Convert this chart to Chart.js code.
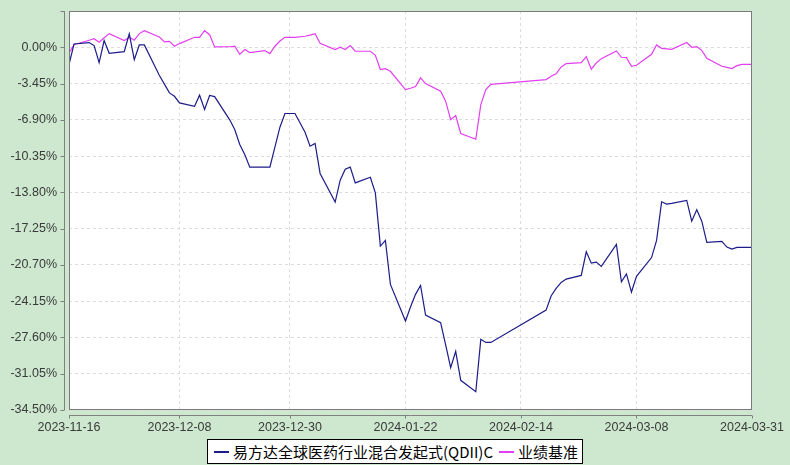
<!DOCTYPE html>
<html>
<head>
<meta charset="utf-8">
<script src="https://cdn.jsdelivr.net/npm/chart.js@4"></script>
<style>
  html, body { margin: 0; padding: 0; background: #cde8cf; }
  #wrap { position: relative; width: 790px; height: 465px; }
  #legend {
    position: absolute; left: 207px; top: 439px; width: 376px; height: 25px;
    border: 1px solid #000; background: #fff; box-sizing: border-box;
    display: flex; align-items: center; justify-content: center;
    font-family: "Noto Sans CJK SC", sans-serif; font-size: 15px; color: #000;
  }
  #legend .mk { display: inline-block; width: 15px; height: 2px; margin: 0 4px 0 2px; }
</style>
</head>
<body>
<div id="wrap">
  <canvas id="navChart" width="790" height="465"></canvas>
  <div id="legend">
    <span class="mk" style="background:#1c1c8a"></span><span>易方达全球医药行业混合发起式(QDII)C</span>
    <span class="mk" style="background:#e23ff0; margin-left:6px"></span><span>业绩基准</span>
  </div>
</div>
<script>
const dates = [
  '2023-11-16','2023-11-17','2023-11-20','2023-11-21','2023-11-22','2023-11-23','2023-11-24',
  '2023-11-27','2023-11-28','2023-11-29','2023-11-30','2023-12-01',
  '2023-12-04','2023-12-05','2023-12-06','2023-12-07','2023-12-08',
  '2023-12-11','2023-12-12','2023-12-13','2023-12-14','2023-12-15',
  '2023-12-18','2023-12-19','2023-12-20','2023-12-21','2023-12-22',
  '2023-12-25','2023-12-26','2023-12-27','2023-12-28','2023-12-29','2023-12-31',
  '2024-01-02','2024-01-03','2024-01-04','2024-01-05',
  '2024-01-08','2024-01-09','2024-01-10','2024-01-11','2024-01-12',
  '2024-01-15','2024-01-16','2024-01-17','2024-01-18','2024-01-19',
  '2024-01-22','2024-01-23','2024-01-24','2024-01-25','2024-01-26',
  '2024-01-29','2024-01-30','2024-01-31','2024-02-01','2024-02-02',
  '2024-02-05','2024-02-06','2024-02-07','2024-02-08',
  '2024-02-19','2024-02-20','2024-02-21','2024-02-22','2024-02-23',
  '2024-02-26','2024-02-27','2024-02-28','2024-02-29','2024-03-01',
  '2024-03-04','2024-03-05','2024-03-06','2024-03-07','2024-03-08',
  '2024-03-11','2024-03-12','2024-03-13','2024-03-14','2024-03-15',
  '2024-03-18','2024-03-19','2024-03-20','2024-03-21','2024-03-22',
  '2024-03-25','2024-03-26','2024-03-27','2024-03-28','2024-03-29','2024-03-31'
];

const fundReturn = [
  -1.64, 0.31, 0.45, 0.16, -1.46, 0.64, -0.57,
  -0.41, 1.27, -1.17, 0.22, 0.22,
  -2.69, -3.50, -4.34, -4.66, -5.29,
  -5.61, -4.56, -5.92, -4.59, -4.69,
  -6.90, -7.82, -9.25, -10.20, -11.40,
  -11.40, -11.40, -9.50, -7.60, -6.30, -6.30,
  -8.08, -9.41, -9.15, -12.00,
  -14.73, -12.64, -11.60, -11.40, -12.90,
  -12.36, -13.85, -18.91, -18.37, -22.55,
  -26.04, -24.70, -23.50, -22.65, -25.47,
  -26.20, -28.30, -30.48, -28.92, -31.68,
  -32.76, -27.78, -28.07, -28.07,
  -25.00, -23.66, -22.94, -22.37, -22.05,
  -21.70, -19.45, -20.53, -20.43, -20.84,
  -18.75, -22.30, -21.55, -23.28, -21.79,
  -20.00, -18.37, -14.70, -14.92, -14.85,
  -14.57, -16.54, -15.46, -16.54, -18.56,
  -18.47, -19.00, -19.20, -19.04, -19.04, -19.04
];

const benchReturn = [
  -0.54, 0.25, 0.67, 0.82, 0.48, 0.90, 1.30,
  0.64, 0.95, 0.67, 1.30, 1.58,
  0.98, 0.51, 0.57, 0.10, 0.35,
  0.95, 0.95, 1.58, 1.20, 0.03,
  0.05, 0.10, -0.67, -0.22, -0.50,
  -0.31, -0.60, 0.10, 0.60, 0.95, 0.95,
  1.05, 1.15, 1.30, 0.38,
  -0.22, 0.00, -0.22, 0.16, -0.38,
  -0.38, -0.76, -2.12, -2.03, -2.28,
  -4.02, -3.90, -3.74, -2.91, -3.45,
  -4.18, -5.13, -6.88, -6.50, -8.20,
  -8.75, -5.45, -4.02, -3.52,
  -3.07, -2.76, -2.53, -1.87, -1.55,
  -1.46, -0.89, -2.09, -1.49, -1.08,
  -0.35, -0.95, -0.98, -1.81, -1.71,
  -0.67, 0.22, -0.10, -0.15, -0.19,
  0.45, 0.00, 0.06, -0.29, -1.05,
  -1.81, -1.92, -2.03, -1.75, -1.62, -1.62
];

const xTickLabels = ['2023-11-16','2023-12-08','2023-12-30','2024-01-22','2024-02-14','2024-03-08','2024-03-31'];

const dayMs = 86400000;
const t0 = Date.parse(dates[0]);
const toDay = d => Math.round((Date.parse(d) - t0) / dayMs);

const fundPts = dates.map((d, i) => ({ x: toDay(d), y: fundReturn[i] }));
const benchPts = dates.map((d, i) => ({ x: toDay(d), y: benchReturn[i] }));
const xTickDays = xTickLabels.map(toDay);

const axisFont = { family: '"Liberation Sans", Arial', size: 12.5 };

// white plot area, gray frame, detached axis lines with small ticks
const plotFrame = {
  id: 'plotFrame',
  beforeDraw(chart) {
    const { ctx, chartArea: a } = chart;
    ctx.save();
    ctx.fillStyle = '#ffffff';
    ctx.fillRect(a.left, a.top, a.right - a.left, a.bottom - a.top);
    ctx.restore();
  },
  afterDraw(chart) {
    const { ctx, chartArea: a, scales } = chart;
    ctx.save();
    ctx.lineWidth = 1;
    ctx.strokeStyle = '#7a7a7a';
    ctx.strokeRect(a.left + 0.5, a.top + 0.5, a.right - a.left - 1, a.bottom - a.top - 1);

    ctx.strokeStyle = '#808080';
    ctx.beginPath();
    const yx = a.left - 4.5;
    ctx.moveTo(yx, a.top);
    ctx.lineTo(yx, a.bottom);
    scales.y.ticks.forEach(t => {
      const py = Math.round(scales.y.getPixelForValue(t.value)) + 0.5;
      ctx.moveTo(yx, py);
      ctx.lineTo(yx - 4, py);
    });
    const xy = a.bottom + 5.5;
    ctx.moveTo(a.left, xy);
    ctx.lineTo(a.right, xy);
    scales.x.ticks.forEach(t => {
      const px = Math.round(scales.x.getPixelForValue(t.value)) + 0.5;
      ctx.moveTo(px, xy);
      ctx.lineTo(px, xy + 3);
    });
    ctx.stroke();
    ctx.restore();
  }
};

new Chart(document.getElementById('navChart').getContext('2d'), {
  type: 'line',
  data: {
    datasets: [{
      label: '易方达全球医药行业混合发起式(QDII)C',
      data: fundPts,
      borderColor: '#1c1c8a',
      borderWidth: 1.2,
      pointRadius: 0,
      tension: 0
    }, {
      label: '业绩基准',
      data: benchPts,
      borderColor: '#e23ff0',
      borderWidth: 1.2,
      pointRadius: 0,
      tension: 0
    }]
  },
  options: {
    responsive: false,
    animation: false,
    layout: { padding: { left: 0, right: 38, top: 11, bottom: 0 } },
    plugins: {
      legend: { display: false },
      tooltip: { enabled: false }
    },
    scales: {
      x: {
        type: 'linear',
        min: 0,
        max: xTickDays[xTickDays.length - 1],
        afterBuildTicks: s => { s.ticks = xTickDays.map(v => ({ value: v })); },
        afterFit: s => { s.height = 55; s.paddingLeft = 0; s.paddingRight = 0; },
        ticks: {
          autoSkip: false,
          maxRotation: 0,
          color: '#3a3a3a',
          font: axisFont,
          padding: 10,
          callback: v => xTickLabels[xTickDays.indexOf(v)]
        },
        grid: { color: '#dcdcdc', drawTicks: false },
        border: { display: false, dash: [3, 3] }
      },
      y: {
        min: -34.5,
        max: 3.45,
        afterBuildTicks: s => {
          const t = [];
          for (let i = 0; i <= 11; i++) t.push({ value: 3.45 - i * 3.45 });
          s.ticks = t;
        },
        afterFit: s => { s.width = 69; s.paddingTop = 0; s.paddingBottom = 0; },
        ticks: {
          color: '#3a3a3a',
          font: axisFont,
          padding: 12,
          callback: v => (v > 0.01 ? '' : (Math.abs(v) < 0.001 ? 0 : v).toFixed(2) + '%')
        },
        grid: { color: '#dcdcdc', drawTicks: false },
        border: { display: false, dash: [3, 3] }
      }
    }
  },
  plugins: [plotFrame]
});
</script>
</body>
</html>
